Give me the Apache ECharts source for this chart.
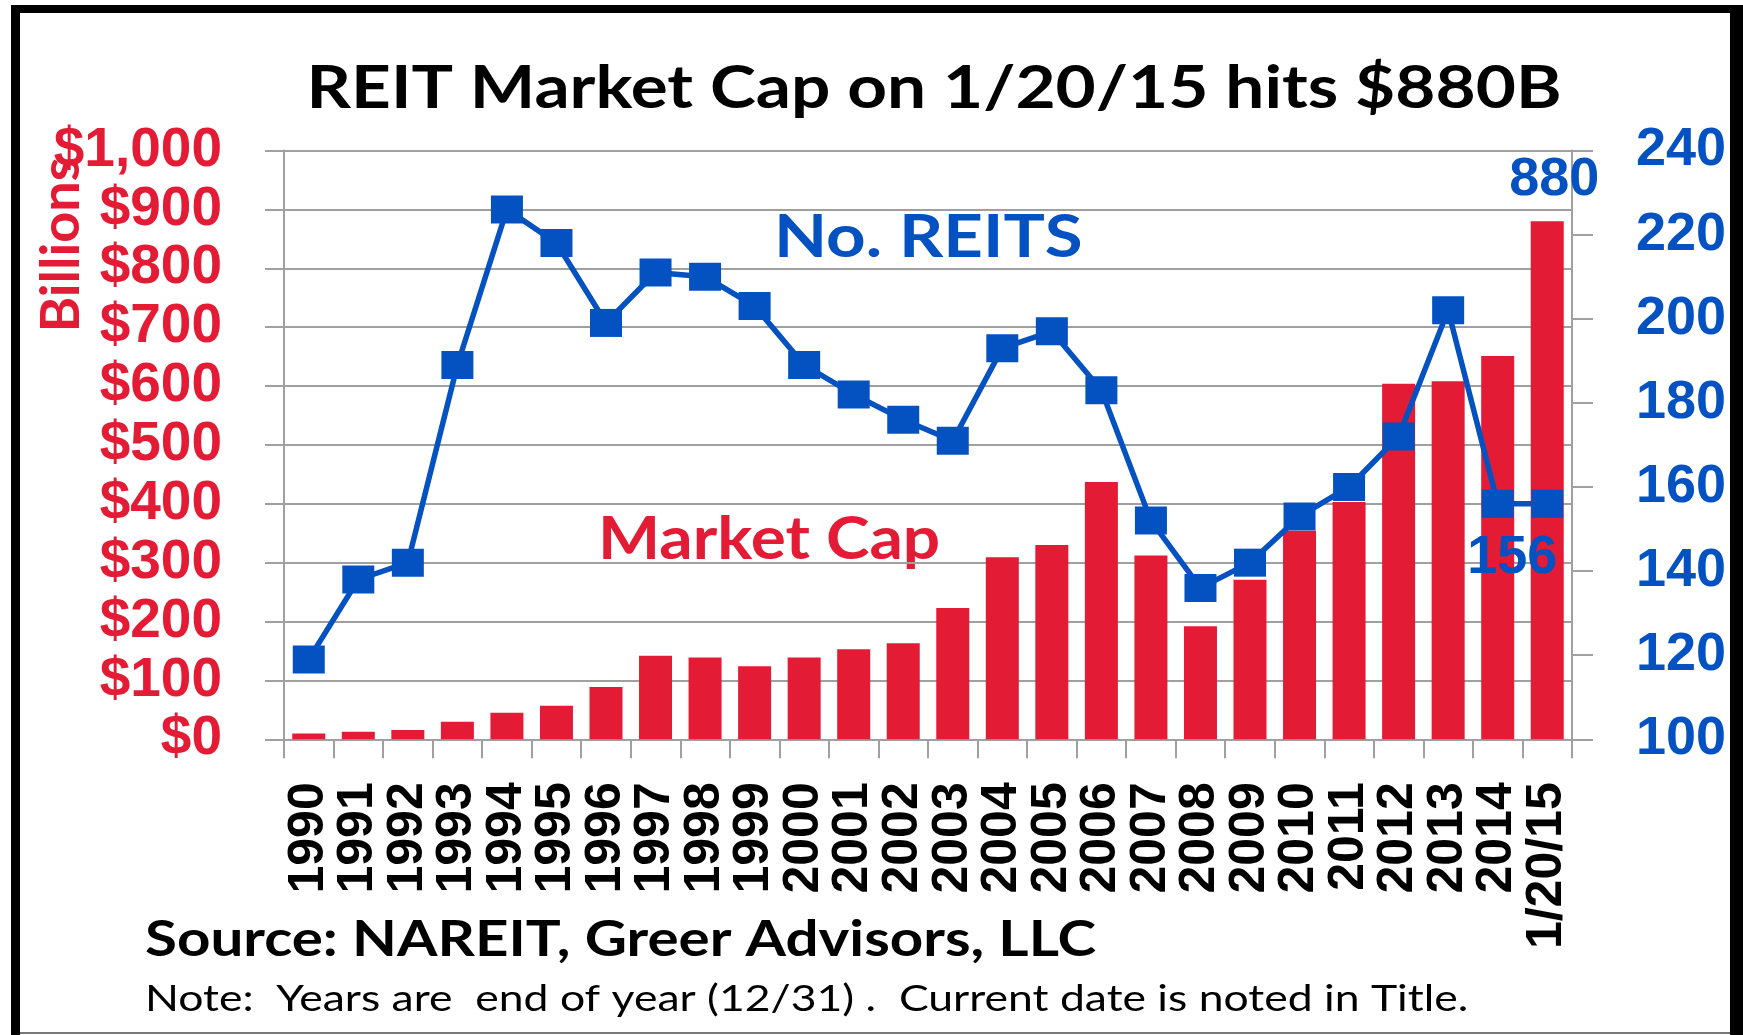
<!DOCTYPE html>
<html><head><meta charset="utf-8">
<script src="https://cdn.jsdelivr.net/npm/echarts@6/dist/echarts.min.js"></script>
<style>html,body{margin:0;padding:0;background:#fff;}#c{width:1743px;height:1035px;}</style>
</head><body><div id="c"></div>
<script>
const categories = ['1990','1991','1992','1993','1994','1995','1996','1997','1998','1999','2000','2001','2002','2003','2004','2005','2006','2007','2008','2009','2010','2011','2012','2013','2014','1/20/15'];
const marketCap = [10, 13, 16, 30, 45, 57, 89, 142, 139, 124, 139, 153, 163, 223, 309, 330, 437, 312, 192, 271, 354, 403, 604, 608, 651, 880];
const reitCount = [119, 138, 142, 189, 226, 218, 199, 211, 210, 203, 189, 182, 176, 171, 193, 197, 183, 152, 136, 142, 153, 160, 172, 202, 156, 156];
const capTicks = { min: 0, max: 1000, step: 100 };
const countTicks = { min: 100, max: 240, step: 20 };

const RED = '#e31b35', BLUE = '#0452c2', GRID = '#a0a0a0';
const F = 'Liberation Sans, Arial, sans-serif';
const L = 'Lato, Carlito, sans-serif';

const chart = echarts.init(document.getElementById('c'), null, {renderer: 'canvas'});
const barData = marketCap.map((v, i) => i === marketCap.length - 1 ? {
  value: v,
  label: {show: true, position: 'top', distance: 14, offset: [7, 0], formatter: '{c}', color: BLUE, fontFamily: F, fontWeight: 'bold', fontSize: 54}
} : v);
const lineData = reitCount.map((v, i) => i === reitCount.length - 1 ? {
  value: v,
  label: {show: true, position: 'inside', offset: [-35, 54], formatter: '{c}', color: BLUE, fontFamily: F, fontWeight: 'bold', fontSize: 54}
} : v);

function txt(text, x, y, size, color, opts) {
  opts = opts || {};
  return {
    type: 'text', x: x, y: y + 0.036 * size, scaleX: opts.sx || 1.2, rotation: opts.rot || 0, silent: true,
    style: {text: text, fill: color, font: (opts.weight || 'bold') + ' ' + size + 'px ' + L,
      textAlign: opts.align || 'left', textVerticalAlign: 'middle'}
  };
}

chart.setOption({
  backgroundColor: '#fff',
  animation: false,
  grid: {left: 284, top: 150.5, width: 1288, height: 588.8, containLabel: false},
  xAxis: {
    type: 'category', data: categories, boundaryGap: true,
    axisLine: {show: true, lineStyle: {color: GRID, width: 2}},
    axisTick: {show: true, length: 19, interval: 0, lineStyle: {color: GRID, width: 2}},
    axisLabel: {interval: 0, rotate: 90, margin: 43, color: '#000', fontFamily: F, fontWeight: 'bold', fontSize: 50},
    splitLine: {show: false}
  },
  yAxis: [{
    type: 'value', min: capTicks.min, max: capTicks.max, interval: capTicks.step, position: 'left',
    axisLine: {show: true, lineStyle: {color: GRID, width: 2}},
    axisTick: {show: true, length: 19, lineStyle: {color: GRID, width: 2}},
    axisLabel: {margin: 62, color: RED, fontFamily: F, fontWeight: 'bold', fontSize: 55,
      formatter: v => '$' + v.toLocaleString('en-US')},
    splitLine: {show: true, lineStyle: {color: GRID, width: 2}}
  }, {
    type: 'value', min: countTicks.min, max: countTicks.max, interval: countTicks.step, position: 'right',
    axisLine: {show: true, lineStyle: {color: GRID, width: 2}},
    axisTick: {show: true, length: 21, lineStyle: {color: GRID, width: 2}},
    axisLabel: {margin: 64, color: BLUE, fontFamily: F, fontWeight: 'bold', fontSize: 54},
    splitLine: {show: false}
  }],
  series: [{
    name: 'Market Cap', type: 'bar', yAxisIndex: 0, data: barData, barWidth: 33,
    itemStyle: {color: RED}, z: 2
  }, {
    name: 'No. REITS', type: 'line', yAxisIndex: 1, data: lineData,
    symbol: 'rect', symbolSize: [32, 28], showAllSymbol: true,
    lineStyle: {color: BLUE, width: 5.5}, itemStyle: {color: BLUE}, z: 3
  }],
  graphic: [
    {type: 'rect', shape: {x: 11, y: 5, width: 9, height: 1035}, style: {fill: '#000'}, silent: true},
    {type: 'rect', shape: {x: 11, y: 5, width: 1732, height: 8}, style: {fill: '#000'}, silent: true},
    {type: 'rect', shape: {x: 1730, y: 5, width: 13, height: 1035}, style: {fill: '#000'}, silent: true},
    {type: 'rect', shape: {x: 20, y: 1032, width: 1710, height: 2}, style: {fill: '#777'}, silent: true},
    txt('REIT Market Cap on 1/20/15 hits $880B', 934, 86, 60, '#000', {align: 'center', sx: 1.155}),
    txt('No. REITS', 774, 236, 59, BLUE, {sx: 1.17}),
    txt('Market Cap', 598, 538, 59, RED, {sx: 1.115}),
    txt('Billions', 62, 243, 53, RED, {align: 'center', rot: Math.PI / 2, sx: 1.02}),
    txt('Source: NAREIT, Greer Advisors, LLC', 145, 938, 50, '#000', {sx: 1.166}),
    txt('Note:  Years are  end of year (12/31) .  Current date is noted in Title.', 145, 998, 36, '#000', {weight: 'normal', sx: 1.236})
  ]
});
</script></body></html>
